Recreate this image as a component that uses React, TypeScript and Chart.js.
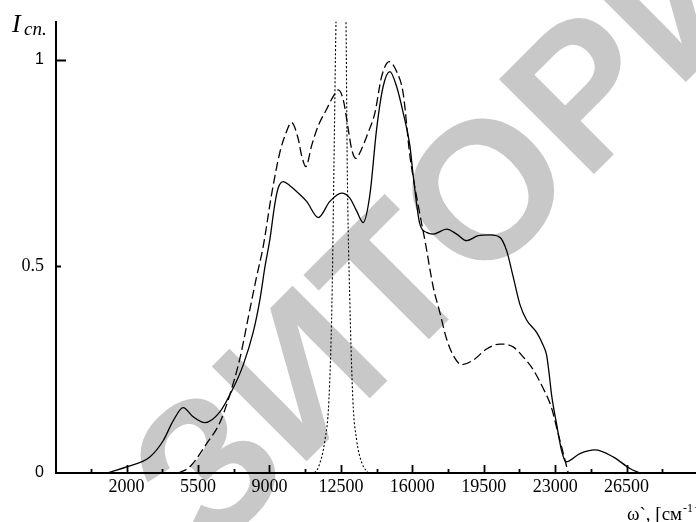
import React, { useEffect, useRef } from 'react';
import { Chart, registerables } from 'chart.js';

Chart.register(...registerables);

// ---- data ----
const solidX = [1020, 2000, 3140, 3790, 4280, 4770, 5260, 5840, 6570, 7220, 7710, 8200, 8530, 8780, 9020, 9260, 9430, 9673, 10000, 10330, 10820, 11390, 11960, 12535, 12940, 13270, 13590, 13920, 14250, 14570, 14900, 15230, 15550, 15880, 16040, 16370, 16700, 17020, 17680, 18170, 18660, 19230, 19800, 20290, 20620, 20940, 21270, 21600, 22090, 22410, 22580, 22740, 22820, 23070, 23310, 23525, 24210, 24950, 25840, 26660, 27150];
const solidY = [0, 0.015, 0.039, 0.078, 0.126, 0.158, 0.136, 0.122, 0.148, 0.205, 0.261, 0.34, 0.419, 0.499, 0.565, 0.65, 0.69, 0.705, 0.695, 0.681, 0.657, 0.618, 0.657, 0.677, 0.665, 0.634, 0.606, 0.673, 0.832, 0.935, 0.971, 0.935, 0.872, 0.792, 0.721, 0.602, 0.582, 0.578, 0.59, 0.578, 0.562, 0.574, 0.576, 0.57, 0.538, 0.475, 0.408, 0.37, 0.34, 0.309, 0.285, 0.225, 0.19, 0.118, 0.055, 0.027, 0.047, 0.056, 0.039, 0.011, 0];

const dashedX = [4530, 5100, 5920, 6570, 7060, 7550, 8040, 8370, 8690, 9100, 9510, 9760, 10085, 10410, 10575, 10785, 11065, 11390, 11800, 12125, 12370, 12615, 12860, 13025, 13235, 13515, 13840, 14170, 14495, 14870, 15230, 15550, 15880, 16370, 16620, 17020, 17350, 17680, 18000, 18415, 18980, 19640, 20290, 20940, 21430, 21920, 22410, 22820, 23150, 23400, 23640];
const dashedY = [0, 0.015, 0.071, 0.122, 0.19, 0.277, 0.396, 0.475, 0.547, 0.673, 0.776, 0.816, 0.848, 0.808, 0.768, 0.741, 0.792, 0.84, 0.88, 0.911, 0.927, 0.903, 0.832, 0.784, 0.761, 0.784, 0.824, 0.872, 0.959, 0.995, 0.971, 0.919, 0.768, 0.626, 0.562, 0.451, 0.388, 0.324, 0.285, 0.262, 0.273, 0.3, 0.312, 0.305, 0.281, 0.25, 0.205, 0.158, 0.094, 0.047, 0];

const dottedX = [11000, 11230, 11470, 11720, 11910, 12060, 12160, 12260, 12500, 12750, 12810, 12940, 13090, 13270, 13530, 13830];
const dottedY = [0, 0.002, 0.024, 0.08, 0.174, 0.41, 0.745, 1.09, 1.5, 1.09, 0.745, 0.41, 0.174, 0.08, 0.024, 0];

const xTickValues = [250, 2000, 3750, 5500, 7250, 9000, 10750, 12500, 14250, 16000, 17750, 19500, 21250, 23000, 24750, 26500, 28250];
const xLabelValues = [2000, 5500, 9000, 12500, 16000, 19500, 23000, 26500];
const yTickValues = [0, 0.5, 1];
const yTickLabels = ['0', '0.5', '1'];

const X_MIN = -1460;
const X_MAX = 29900;
const Y_MAX = 1.092;

const toPts = (xs: number[], ys: number[]) => xs.map((x, i) => ({ x, y: ys[i] }));

const decorPlugin = {
  id: 'decor',
  beforeDraw(chart: any) {
    const ctx = chart.ctx;
    ctx.save();
    ctx.translate(505, 187);
    ctx.rotate(-Math.PI / 4);
    ctx.fillStyle = 'rgb(200,200,200)';
    ctx.font = 'bold 195px "Liberation Sans"';
    ctx.textAlign = 'center';
    ctx.textBaseline = 'middle';
    ctx.fillText('ЗИТОРИЙ', 0, 0);
    ctx.restore();
  },
  afterDraw(chart: any) {
    const ctx = chart.ctx;
    const xs = chart.scales.x;
    const ys = chart.scales.y;
    const area = chart.chartArea;
    ctx.save();
    ctx.strokeStyle = '#000';
    ctx.lineWidth = 1.8;
    ctx.beginPath();
    xTickValues.forEach((v) => {
      const px = Math.round(xs.getPixelForValue(v)) + 0.5;
      const len = xLabelValues.includes(v) ? 8 : 4;
      ctx.moveTo(px, area.bottom);
      ctx.lineTo(px, area.bottom - len);
    });
    yTickValues.forEach((v) => {
      if (v === 0) return;
      const py = Math.round(ys.getPixelForValue(v)) + 0.5;
      const len = v === 1 ? 10 : 5;
      ctx.moveTo(area.left, py);
      ctx.lineTo(area.left + len, py);
    });
    ctx.stroke();

    // y title
    ctx.fillStyle = '#000';
    ctx.textAlign = 'left';
    ctx.textBaseline = 'alphabetic';
    ctx.font = 'italic 26px "Liberation Serif"';
    ctx.fillText('I', 12, 32);
    ctx.font = 'italic 19px "Liberation Serif"';
    ctx.fillText('cn.', 24, 35);

    // x title
    ctx.font = '19px "Liberation Serif"';
    const main = 'ω`, [см';
    ctx.fillText(main, 627, 520);
    const w = ctx.measureText(main).width;
    ctx.font = '12px "Liberation Serif"';
    ctx.fillText('-1', 627 + w + 1, 512);
    const w2 = ctx.measureText('-1').width;
    ctx.font = '19px "Liberation Serif"';
    ctx.fillText(']', 627 + w + w2 + 2, 520);
    ctx.restore();
  },
};

export default function App() {
  const ref = useRef<HTMLCanvasElement | null>(null);
  useEffect(() => {
    document.body.style.margin = '0';
    const canvas = ref.current;
    if (!canvas) return;
    const chart = new Chart(canvas, {
      type: 'line',
      data: {
        datasets: [
          {
            label: 'solid',
            data: toPts(solidX, solidY),
            borderColor: '#000',
            borderWidth: 1.3,
            pointRadius: 0,
            cubicInterpolationMode: 'monotone',
            fill: false,
          },
          {
            label: 'dashed',
            data: toPts(dashedX, dashedY),
            borderColor: '#000',
            borderWidth: 1.3,
            borderDash: [9, 4],
            pointRadius: 0,
            cubicInterpolationMode: 'monotone',
            fill: false,
          },
          {
            label: 'dotted',
            data: toPts(dottedX, dottedY),
            borderColor: '#000',
            borderWidth: 1.1,
            borderDash: [2, 2],
            pointRadius: 0,
            cubicInterpolationMode: 'monotone',
            fill: false,
          },
        ],
      },
      options: {
        responsive: false,
        animation: false,
        layout: { padding: { top: 14, left: 0, right: 0, bottom: 0 } },
        plugins: { legend: { display: false }, tooltip: { enabled: false } },
        scales: {
          x: {
            type: 'linear',
            min: X_MIN,
            max: X_MAX,
            afterBuildTicks: (s: any) => {
              s.ticks = xTickValues.map((v) => ({ value: v }));
            },
            afterFit: (s: any) => {
              s.height = 49;
            },
            grid: { display: false, drawTicks: false },
            border: { display: true, color: '#000', width: 2 },
            ticks: {
              autoSkip: false,
              maxRotation: 0,
              padding: 3,
              color: '#000',
              font: { family: '"Liberation Serif"', size: 18 },
              callback: (v: any) => (xLabelValues.includes(Number(v)) ? String(v) : ''),
            },
          },
          y: {
            type: 'linear',
            min: 0,
            max: Y_MAX,
            afterBuildTicks: (s: any) => {
              s.ticks = yTickValues.map((v) => ({ value: v }));
            },
            afterFit: (s: any) => {
              s.width = 56;
            },
            grid: { display: false, drawTicks: false },
            border: { display: true, color: '#000', width: 2 },
            ticks: {
              padding: 12,
              color: '#000',
              font: (c: any) =>
                c.tick && c.tick.value === 0.5
                  ? { family: '"Liberation Serif"', size: 18 }
                  : { family: '"Liberation Sans"', size: 16 },
              callback: (v: any) => {
                const i = yTickValues.indexOf(Number(v));
                return i >= 0 ? yTickLabels[i] : '';
              },
            },
          },
        },
      },
      plugins: [decorPlugin],
    } as any);
    return () => chart.destroy();
  }, []);
  return (
    <div style={{ width: 696, height: 522, background: '#fff' }}>
      <canvas ref={ref} width={696} height={522} />
    </div>
  );
}
